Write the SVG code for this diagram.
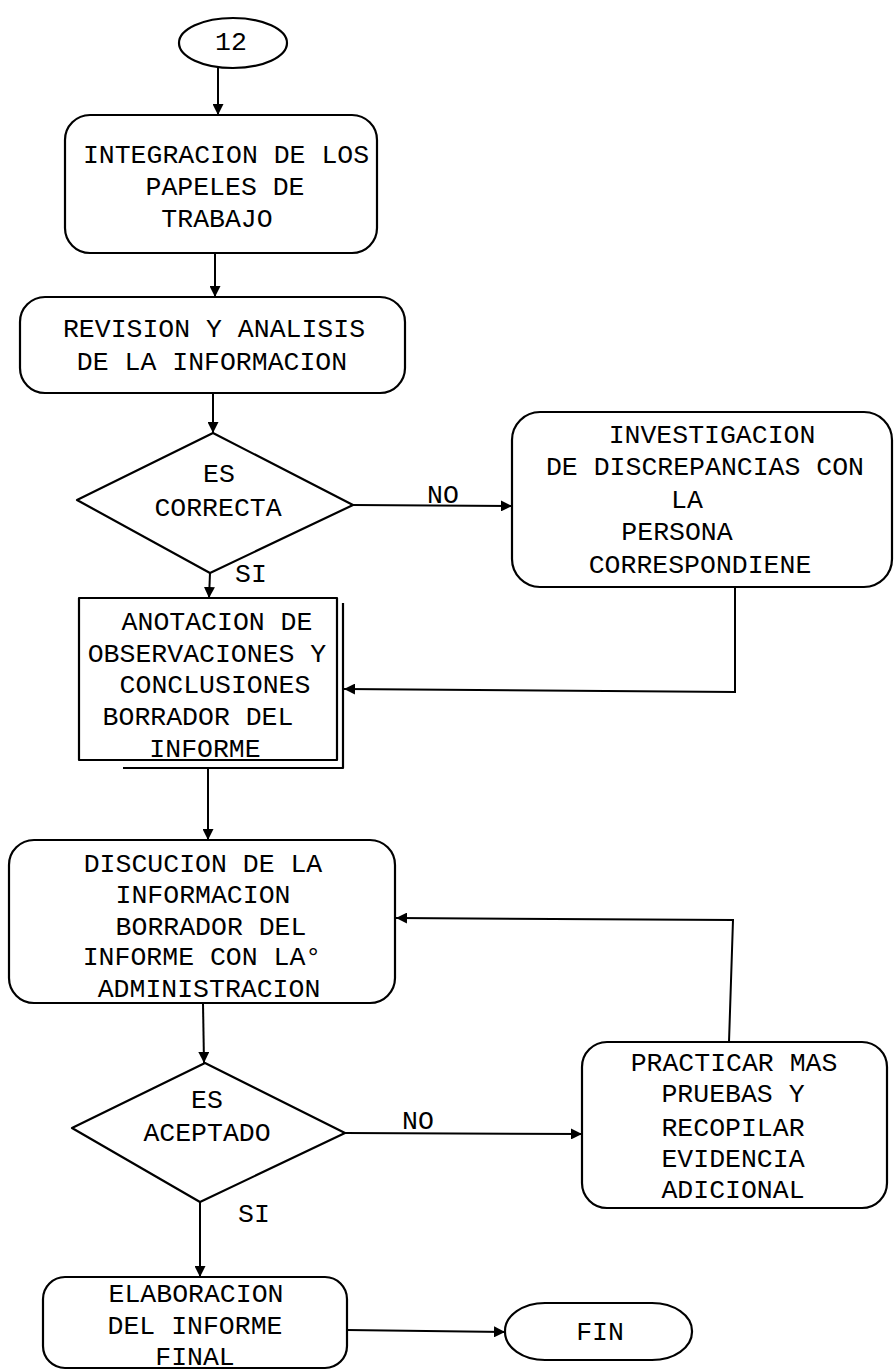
<svg xmlns="http://www.w3.org/2000/svg" width="894" height="1372" viewBox="0 0 894 1372">
  <defs>
    <style>
      .shape { fill: none; stroke: #000; stroke-width: 2.2; stroke-linejoin: round; }
      .conn { fill: none; stroke: #000; stroke-width: 2; }
      .lbl { font-family: "Liberation Mono", "Courier New", monospace; font-size: 26.5px; fill: #000; text-anchor: middle; }
      .tag { font-family: "Liberation Mono", "Courier New", monospace; font-size: 26.5px; fill: #000; }
    </style>
    <marker id="arrow" viewBox="0 0 10 10" refX="10" refY="5" markerWidth="11" markerHeight="11" markerUnits="userSpaceOnUse" orient="auto">
      <path d="M0,0 L10,5 L0,10 z" fill="#000"/>
    </marker>
  </defs>

  <rect width="894" height="1372" fill="#fff"/>

  <!-- connectors -->
  <g id="connectors">
    <line class="conn" x1="218" y1="68" x2="218" y2="115" marker-end="url(#arrow)"/>
    <line class="conn" x1="215" y1="253" x2="215" y2="297" marker-end="url(#arrow)"/>
    <line class="conn" x1="213" y1="393" x2="213" y2="433" marker-end="url(#arrow)"/>
    <line class="conn" x1="353" y1="505" x2="512" y2="506" marker-end="url(#arrow)"/>
    <line class="conn" x1="210" y1="573" x2="209" y2="598" marker-end="url(#arrow)"/>
    <polyline class="conn" points="735,587 735,692 344,689" marker-end="url(#arrow)"/>
    <line class="conn" x1="208" y1="768" x2="208" y2="840" marker-end="url(#arrow)"/>
    <line class="conn" x1="203" y1="1003" x2="204" y2="1063" marker-end="url(#arrow)"/>
    <line class="conn" x1="345" y1="1133" x2="582" y2="1134" marker-end="url(#arrow)"/>
    <polyline class="conn" points="729,1042 733,920 396,918" marker-end="url(#arrow)"/>
    <line class="conn" x1="200" y1="1202" x2="200" y2="1277" marker-end="url(#arrow)"/>
    <line class="conn" x1="347" y1="1330" x2="505" y2="1332" marker-end="url(#arrow)"/>
    <text class="tag" x="427" y="503">NO</text>
    <text class="tag" x="235" y="582">SI</text>
    <text class="tag" x="402" y="1129">NO</text>
    <text class="tag" x="238" y="1222">SI</text>
  </g>

  <!-- start terminal -->
  <g id="inicio">
    <ellipse class="shape" cx="233" cy="43" rx="54" ry="25"/>
    <text class="lbl" x="231" y="50">12</text>
  </g>

  <g id="integracion">
    <rect class="shape" x="65" y="115" width="312" height="138" rx="25"/>
    <text class="lbl" x="226" y="163">INTEGRACION DE LOS</text>
    <text class="lbl" x="225" y="195">PAPELES DE</text>
    <text class="lbl" x="217" y="227">TRABAJO</text>
  </g>

  <g id="revision">
    <rect class="shape" x="20" y="297" width="385" height="96" rx="25"/>
    <text class="lbl" x="214" y="337">REVISION Y ANALISIS</text>
    <text class="lbl" x="212" y="370">DE LA INFORMACION</text>
  </g>

  <g id="es-correcta">
    <polygon class="shape" points="213,433 353,505 210,573 77,500"/>
    <text class="lbl" x="219" y="482">ES</text>
    <text class="lbl" x="218" y="516">CORRECTA</text>
  </g>

  <g id="investigacion">
    <rect class="shape" x="512" y="412" width="380" height="175" rx="28"/>
    <text class="lbl" x="712" y="443">INVESTIGACION</text>
    <text class="lbl" x="705" y="475">DE DISCREPANCIAS CON</text>
    <text class="lbl" x="687" y="508">LA</text>
    <text class="lbl" x="677" y="540">PERSONA</text>
    <text class="lbl" x="700" y="573">CORRESPONDIENE</text>
  </g>

  <!-- document box with offset edge -->
  <g id="anotacion">
    <rect class="shape" x="79" y="598" width="258" height="162"/>
    <polyline class="shape" points="343,603 343,768 123,768"/>
    <text class="lbl" x="217" y="630">ANOTACION DE</text>
    <text class="lbl" x="207" y="662">OBSERVACIONES Y</text>
    <text class="lbl" x="215" y="693">CONCLUSIONES</text>
    <text class="lbl" x="198" y="725">BORRADOR DEL</text>
    <text class="lbl" x="205" y="757">INFORME</text>
  </g>

  <g id="discucion">
    <rect class="shape" x="9" y="840" width="386" height="163" rx="25"/>
    <text class="lbl" x="203" y="872">DISCUCION DE LA</text>
    <text class="lbl" x="203" y="903">INFORMACION</text>
    <text class="lbl" x="211" y="935">BORRADOR DEL</text>
    <text class="lbl" x="202" y="965">INFORME CON LA°</text>
    <text class="lbl" x="209" y="997">ADMINISTRACION</text>
  </g>

  <g id="es-aceptado">
    <polygon class="shape" points="205,1063 345,1133 200,1202 72,1128"/>
    <text class="lbl" x="207" y="1108">ES</text>
    <text class="lbl" x="207" y="1141">ACEPTADO</text>
  </g>

  <g id="practicar">
    <rect class="shape" x="582" y="1042" width="305" height="166" rx="25"/>
    <text class="lbl" x="734" y="1071">PRACTICAR MAS</text>
    <text class="lbl" x="733" y="1102">PRUEBAS Y</text>
    <text class="lbl" x="733" y="1136">RECOPILAR</text>
    <text class="lbl" x="733" y="1167">EVIDENCIA</text>
    <text class="lbl" x="733" y="1198">ADICIONAL</text>
  </g>

  <g id="elaboracion">
    <rect class="shape" x="43" y="1277" width="304" height="91" rx="22"/>
    <text class="lbl" x="196" y="1302">ELABORACION</text>
    <text class="lbl" x="195" y="1334">DEL INFORME</text>
    <text class="lbl" x="195" y="1365">FINAL</text>
  </g>

  <!-- end terminal -->
  <g id="fin">
    <rect class="shape" x="505" y="1303" width="187" height="57" rx="40" ry="28"/>
    <text class="lbl" x="600" y="1340">FIN</text>
  </g>
</svg>
